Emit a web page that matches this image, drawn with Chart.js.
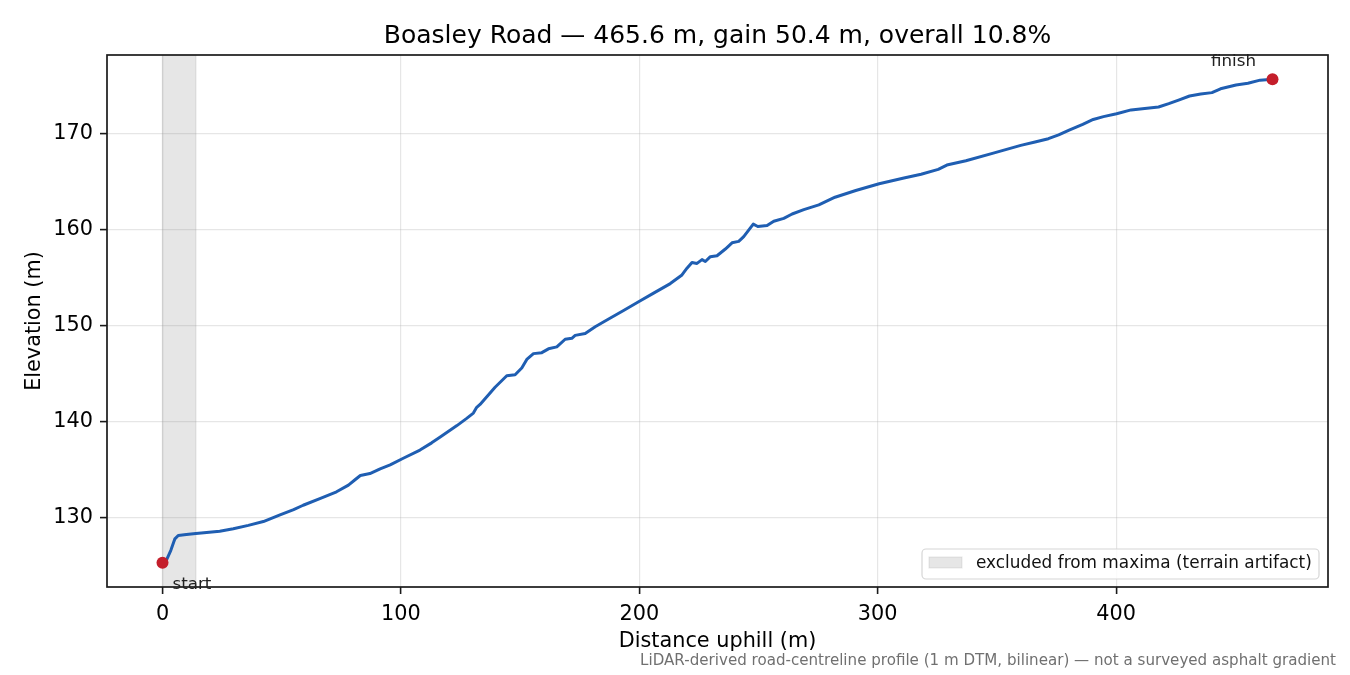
<!DOCTYPE html>
<html lang="en">
<head>
<meta charset="UTF-8">
<title>Boasley Road — elevation profile</title>
<script src="https://cdn.jsdelivr.net/npm/chart.js"></script>
<style>
    html, body { margin: 0; padding: 0; background: #fff; }
    #wrap { width: 1350px; height: 675px; position: relative; }
</style>
</head>
<body>
<div id="wrap"><canvas id="profile" width="1350" height="675"></canvas></div>
<script>
// profile (distance along road in m, elevation in m)
const distance = [0, 1.7, 3.5, 5.2, 6.6, 10, 14, 18.5, 24, 29.7, 36, 42.3, 49.3, 55, 59, 66, 73, 78, 80.5, 83,
    87, 91.3, 95.5, 101, 108, 112.9, 116.5, 123.5, 127.6, 130.4, 131.8, 133.2, 135.3, 139.5, 144.4, 147.9, 150.7,
    152.8, 155.6, 159.1, 161.9, 165.4, 168.9, 171.7, 173.1, 177.3, 181.5, 186.4, 193.4, 199.7, 206, 213, 217.9,
    220, 222.1, 224.2, 226.3, 227.7, 229.8, 232.6, 236.1, 238.9, 241.7, 243.8, 247.8, 249.7, 253.6, 256.4, 260.6,
    264.1, 269, 275.3, 282.1, 290.8, 300.6, 311, 318.2, 325.4, 329, 337, 348.5, 360, 366, 371.6, 375.9, 380.3,
    386, 390.4, 394.7, 400.2, 406.3, 412, 417.8, 422.1, 426.5, 430.8, 435.5, 440.2, 443.8, 450.3, 455.3, 460.4, 465.6];
const elevation = [125.3, 125.6, 126.6, 127.8, 128.15, 128.25, 128.35, 128.45, 128.6, 128.85, 129.2, 129.6, 130.3,
    130.85, 131.3, 132.0, 132.7, 133.4, 133.9, 134.4, 134.6, 135.1, 135.5, 136.2, 137.05, 137.8, 138.4, 139.6,
    140.35, 140.9, 141.5, 141.8, 142.4, 143.6, 144.8, 144.9, 145.6, 146.5, 147.1, 147.2, 147.6, 147.8, 148.6,
    148.7, 149.0, 149.2, 149.9, 150.6, 151.6, 152.5, 153.4, 154.4, 155.3, 156.0, 156.6, 156.5, 156.9, 156.7,
    157.2, 157.3, 158.0, 158.65, 158.8, 159.3, 160.6, 160.35, 160.45, 160.9, 161.2, 161.65, 162.1, 162.6, 163.4,
    164.1, 164.8, 165.4, 165.8, 166.3, 166.75, 167.2, 168.0, 168.8, 169.15, 169.5, 169.9, 170.4,
    171.0, 171.5, 171.8, 172.1, 172.5, 172.65, 172.8, 173.15, 173.55, 173.95, 174.15, 174.3, 174.7, 175.1, 175.27,
    175.6, 175.7];
const xTicks = [0, 100, 200, 300, 400];
const yTicks = [130, 140, 150, 160, 170];
const excludedRange = [0, 14];

const titleText = 'Boasley Road — 465.6 m, gain 50.4 m, overall 10.8%';
const xLabel = 'Distance uphill (m)';
const yLabel = 'Elevation (m)';
const legendText = 'excluded from maxima (terrain artifact)';
const footText = 'LiDAR-derived road-centreline profile (1 m DTM, bilinear) — not a surveyed asphalt gradient';

const FONT = "'DejaVu Sans', sans-serif";
const BAND_FILL = 'rgba(128,128,128,0.2)';

const profile = distance.map((d, i) => ({ x: d, y: elevation[i] }));
const ends = [profile[0], profile[profile.length - 1]];

// matplotlib-like 5% margins
const xSpan = distance[distance.length - 1] - distance[0];
const ySpan = Math.max(...elevation) - Math.min(...elevation);
const xMin = distance[0] - xSpan * 0.05, xMax = distance[distance.length - 1] + xSpan * 0.05;
const yMin = Math.min(...elevation) - ySpan * 0.05, yMax = Math.max(...elevation) + ySpan * 0.05;

const decor = {
    id: 'decor',
    beforeDatasetsDraw(chart) {
        const { ctx, chartArea: a, scales: { x } } = chart;
        const x0 = x.getPixelForValue(excludedRange[0]);
        const x1 = x.getPixelForValue(excludedRange[1]);
        ctx.save();
        ctx.fillStyle = BAND_FILL;
        ctx.fillRect(x0, a.top, x1 - x0, a.bottom - a.top);
        ctx.strokeStyle = 'rgba(128,128,128,0.15)';
        ctx.lineWidth = 1.5;
        ctx.beginPath();
        ctx.moveTo(x0, a.top); ctx.lineTo(x0, a.bottom);
        ctx.moveTo(x1, a.top); ctx.lineTo(x1, a.bottom);
        ctx.stroke();
        ctx.restore();
    },
    afterDraw(chart) {
        const { ctx, chartArea: a, scales: { x, y } } = chart;
        const cx = (a.left + a.right) / 2;
        ctx.save();

        // spines
        ctx.strokeStyle = '#1a1a1a';
        ctx.lineWidth = 1.7;
        ctx.strokeRect(a.left, a.top, a.right - a.left, a.bottom - a.top);

        // title
        ctx.fillStyle = '#000';
        ctx.textAlign = 'center';
        ctx.textBaseline = 'alphabetic';
        ctx.font = '25px ' + FONT;
        ctx.fillText(titleText, cx, a.top - 12.5);

        // axis titles
        ctx.font = '20.8px ' + FONT;
        ctx.fillText(xLabel, cx, 647);
        ctx.save();
        ctx.translate(40, (a.top + a.bottom) / 2);
        ctx.rotate(-Math.PI / 2);
        ctx.fillText(yLabel, 0, 0);
        ctx.restore();

        // start / finish labels
        ctx.font = '16.7px ' + FONT;
        ctx.fillStyle = '#222';
        const sx = x.getPixelForValue(ends[0].x), sy = y.getPixelForValue(ends[0].y);
        ctx.textAlign = 'left';
        ctx.fillText('start', sx + 10, sy + 26);
        const fx = x.getPixelForValue(ends[1].x), fy = y.getPixelForValue(ends[1].y);
        ctx.textAlign = 'center';
        ctx.fillText('finish', fx - 39, fy - 13);

        // legend
        const lw = 397, lh = 30;
        const lx = a.right - 9 - lw, ly = a.bottom - 8 - lh;
        ctx.beginPath();
        ctx.roundRect(lx, ly, lw, lh, 4);
        ctx.fillStyle = 'rgba(255,255,255,0.85)';
        ctx.fill();
        ctx.strokeStyle = '#d6d6d6';
        ctx.lineWidth = 1.2;
        ctx.stroke();
        ctx.fillStyle = BAND_FILL;
        ctx.fillRect(lx + 7, ly + 8, 33, 11);
        ctx.strokeStyle = 'rgba(128,128,128,0.15)';
        ctx.strokeRect(lx + 7, ly + 8, 33, 11);
        ctx.fillStyle = '#111';
        ctx.textAlign = 'left';
        ctx.textBaseline = 'middle';
        ctx.font = '16.9px ' + FONT;
        ctx.fillText(legendText, lx + 54, ly + lh / 2);

        // footnote
        ctx.font = '15.1px ' + FONT;
        ctx.fillStyle = '#707070';
        ctx.textAlign = 'right';
        ctx.textBaseline = 'alphabetic';
        ctx.fillText(footText, 1336, 665);
        ctx.restore();
    }
};

const gridStyle = {
    color: 'rgba(176,176,176,0.32)',
    lineWidth: 1.2,
    drawTicks: true,
    tickLength: 7,
    tickColor: '#1a1a1a',
    tickWidth: 1.6
};

new Chart(document.getElementById('profile'), {
    data: {
        datasets: [
            {
                type: 'scatter',
                data: ends,
                pointRadius: 6,
                pointHoverRadius: 6,
                backgroundColor: '#c41e2b',
                borderWidth: 0,
                order: 0
            },
            {
                type: 'line',
                data: profile,
                borderColor: '#1f5eb2',
                borderWidth: 3,
                borderJoinStyle: 'round',
                borderCapStyle: 'round',
                pointRadius: 0,
                tension: 0,
                fill: false,
                order: 1
            }
        ]
    },
    options: {
        responsive: false,
        animation: false,
        layout: { padding: { top: 55, right: 22, left: 0, bottom: 0 } },
        plugins: { legend: { display: false }, tooltip: { enabled: false }, title: { display: false } },
        scales: {
            x: {
                type: 'linear',
                min: xMin,
                max: xMax,
                afterBuildTicks: s => { s.ticks = xTicks.map(v => ({ value: v })); },
                afterFit: s => { s.height = 88; },
                grid: gridStyle,
                border: { display: false },
                ticks: { font: { family: FONT, size: 20.8 }, color: '#000', padding: 8, maxRotation: 0, autoSkip: false }
            },
            y: {
                type: 'linear',
                min: yMin,
                max: yMax,
                afterBuildTicks: s => { s.ticks = yTicks.map(v => ({ value: v })); },
                afterFit: s => { s.width = 107; },
                grid: gridStyle,
                border: { display: false },
                ticks: { font: { family: FONT, size: 20.8 }, color: '#000', padding: 7, autoSkip: false }
            }
        }
    },
    plugins: [decor]
});
</script>
</body>
</html>
